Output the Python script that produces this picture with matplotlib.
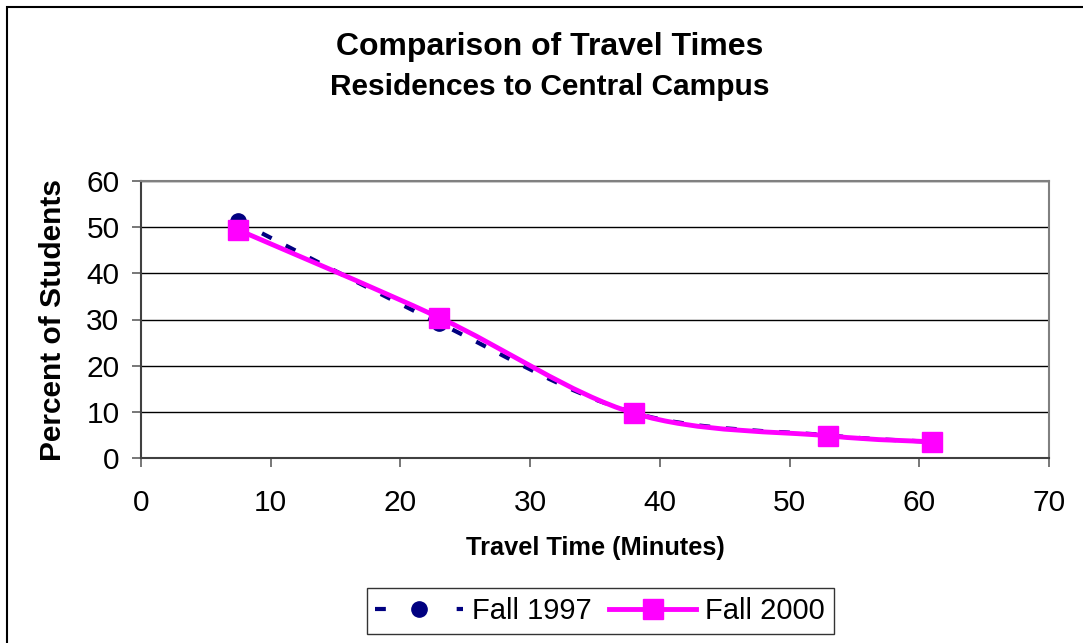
import numpy as np
import matplotlib.pyplot as plt
from matplotlib.path import Path
from matplotlib.patches import PathPatch, Rectangle
from matplotlib.lines import Line2D

plt.rcParams['font.family'] = ['Liberation Sans', 'DejaVu Sans']

# data
minutes = [7.5, 23, 38, 53, 61]
fall_1997 = [51.3, 29.2, 9.8, 4.9, 3.5]
fall_2000 = [49.4, 30.4, 9.7, 4.8, 3.5]
x_ticks = [0, 10, 20, 30, 40, 50, 60, 70]
y_ticks = [0, 10, 20, 30, 40, 50, 60]


def smooth_path(xs, ys):
    # excel style smoothed line: cubic bezier through each point
    p = np.column_stack([xs, ys]).astype(float)
    n = len(p)
    verts = [p[0]]
    codes = [Path.MOVETO]
    for i in range(n - 1):
        p0 = p[i - 1] if i > 0 else p[i]
        p3 = p[i + 2] if i + 2 < n else p[i + 1]
        c1 = p[i] + (p[i + 1] - p0) / 6.0
        c2 = p[i + 1] - (p3 - p[i]) / 6.0
        verts += [c1, c2, p[i + 1]]
        codes += [Path.CURVE4] * 3
    return Path(verts, codes)


fig = plt.figure(figsize=(10.83, 6.43), dpi=100)
fig.patches.append(Rectangle((7 / 1083, -0.1), 1.2, 1 - 7 / 643 + 0.1,
                             transform=fig.transFigure, fill=False,
                             edgecolor='black', linewidth=1.5))

ax = fig.add_axes([141 / 1083, 1 - 458 / 643, (1049 - 141) / 1083, (458 - 181) / 643])

navy = '#000080'
pink = '#ff00ff'

ax.add_patch(PathPatch(smooth_path(minutes, fall_1997), fill=False, edgecolor=navy,
                       linewidth=3, linestyle=(0, (2.6, 3.8)), zorder=3))
ax.plot(minutes, fall_1997, linestyle='none', marker='o', markersize=11,
        color=navy, zorder=4)
ax.add_patch(PathPatch(smooth_path(minutes, fall_2000), fill=False, edgecolor=pink,
                       linewidth=3.5, zorder=5))
ax.plot(minutes, fall_2000, linestyle='none', marker='s', markersize=14,
        color=pink, zorder=6)

ax.set_xlim(0, 70)
ax.set_ylim(0, 60)
ax.set_xticks(x_ticks)
ax.set_yticks(y_ticks)
ax.tick_params(axis='both', labelsize=21.5, length=6.5, width=1.2, color='#606060',
               direction='out')
ax.tick_params(axis='x', pad=16)
ax.tick_params(axis='y', pad=9)
ax.grid(axis='y', color='black', linewidth=1)
ax.set_axisbelow(True)
for s in ax.spines.values():
    s.set_color('#808080')
    s.set_linewidth(1.5)
ax.spines['left'].set_color('#404040')
ax.spines['bottom'].set_color('#404040')

fig.text(550 / 1083, 1 - 47 / 643, 'Comparison of Travel Times', ha='center',
         va='center', fontsize=23, fontweight='bold')
fig.text(550 / 1083, 1 - 87 / 643, 'Residences to Central Campus', ha='center',
         va='center', fontsize=21.5, fontweight='bold')
fig.text(53 / 1083, 1 - 320 / 643, 'Percent of Students', ha='center', va='center',
         rotation=90, fontsize=21.5, fontweight='bold')
fig.text(595 / 1083, 1 - 548 / 643, 'Travel Time (Minutes)', ha='center',
         va='center', fontsize=18.3, fontweight='bold')

handles = [
    Line2D([], [], color=navy, linewidth=3, linestyle=(0, (2.6, 17)), marker='o',
           markersize=11, dash_capstyle='butt'),
    Line2D([], [], color=pink, linewidth=3.5, marker='s', markersize=14),
]
leg = fig.legend(handles, ['Fall 1997', 'Fall 2000'], loc='center',
                 bbox_to_anchor=(600 / 1083, 1 - 611 / 643), ncol=2, fontsize=21,
                 frameon=True, fancybox=False, edgecolor='black', handlelength=3,
                 columnspacing=0.6, handletextpad=0.3, borderpad=0.3,
                 borderaxespad=0)
leg.get_frame().set_linewidth(1)

fig.savefig('out.png', dpi=100)
